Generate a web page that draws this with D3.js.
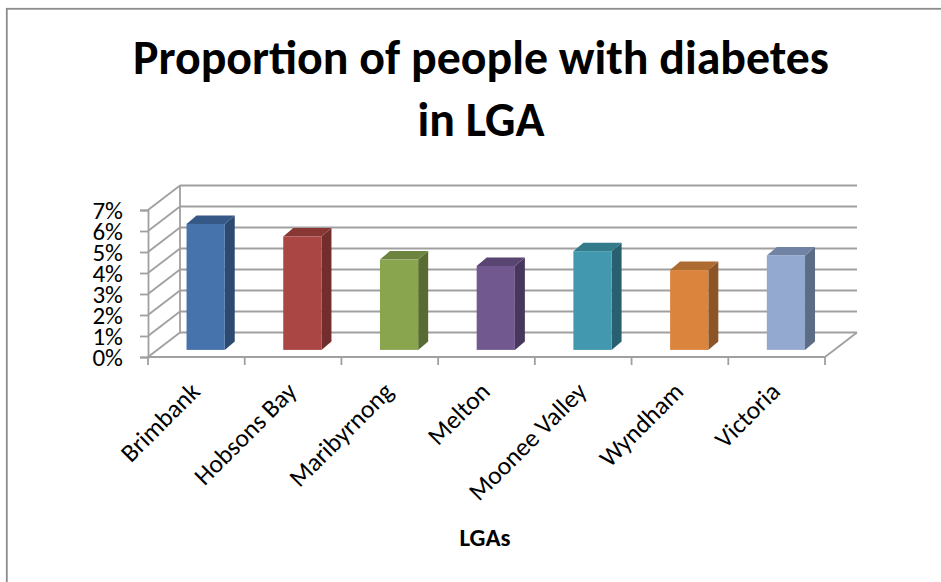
<!DOCTYPE html>
<html>
<head>
<meta charset="utf-8">
<script src="https://cdn.jsdelivr.net/npm/d3@7"></script>
<style>
  html, body { margin: 0; padding: 0; background: #fff; }
  svg { display: block; font-family: Carlito, Calibri, Lato, "Open Sans", sans-serif; }
</style>
</head>
<body>
<svg id="chart" width="941" height="582"></svg>
<script>
// Proportion of people with diabetes, by Local Government Area
const categories = ["Brimbank", "Hobsons Bay", "Maribyrnong", "Melton", "Moonee Valley", "Wyndham", "Victoria"];
const diabetesShare = [0.060, 0.054, 0.043, 0.040, 0.047, 0.038, 0.045];
const yTicks = [0, 0.01, 0.02, 0.03, 0.04, 0.05, 0.06, 0.07];
const titleLines = ["Proportion of people with diabetes", "in LGA"];
const xAxisTitle = "LGAs";

// face colours per column: front, side, top
const palette = [
  { front: "#4673ab", side: "#2c4a70", top: "#365886" },
  { front: "#aa4643", side: "#722e2c", top: "#893734" },
  { front: "#89a54e", side: "#586b32", top: "#6c843d" },
  { front: "#71588f", side: "#47375c", top: "#594571" },
  { front: "#4198af", side: "#29606f", top: "#337a8b" },
  { front: "#db843d", side: "#8c5427", top: "#ad6a31" },
  { front: "#93a9cf", side: "#5d6c85", top: "#7183a4" }
];

const svg = d3.select("#chart");

// 3D box geometry: front plane, plus an oblique offset to the back wall
const plot = { left: 148, right: 825, bottom: 357, top: 210 };
const depth = { dx: 32, dy: -24.5 };
const barDepthStart = 0.29;   // fraction of floor depth where column fronts sit
const barDepth = { dx: 10, dy: -8.5 };

const x = d3.scaleBand().domain(categories).range([plot.left, plot.right]).paddingInner(0).paddingOuter(0);
const y = d3.scaleLinear().domain([0, 0.07]).range([plot.bottom, plot.top]);

const gridColor = "#a0a0a0";

// chart area border (only left and top edges fall inside the frame)
svg.append("rect")
  .attr("x", 6.8).attr("y", 8.8).attr("width", 960).attr("height", 600)
  .attr("fill", "none").attr("stroke", "#8c8c8c").attr("stroke-width", 1.8);

const walls = svg.append("g").attr("fill", "none").attr("stroke", gridColor).attr("stroke-width", 1.8);

// back-wall gridlines
walls.selectAll("line.back").data(yTicks).join("line")
  .attr("class", "back")
  .attr("x1", plot.left + depth.dx).attr("x2", plot.right + depth.dx)
  .attr("y1", d => y(d) + depth.dy).attr("y2", d => y(d) + depth.dy);

// side-wall gridlines
walls.selectAll("line.side").data(yTicks).join("line")
  .attr("class", "side")
  .attr("x1", plot.left).attr("x2", plot.left + depth.dx)
  .attr("y1", d => y(d)).attr("y2", d => y(d) + depth.dy);

// back vertical edge of side wall
walls.append("line")
  .attr("x1", plot.left + depth.dx).attr("x2", plot.left + depth.dx)
  .attr("y1", y(0) + depth.dy).attr("y2", y(0.07) + depth.dy);

// floor edges
walls.append("line")
  .attr("x1", plot.left).attr("x2", plot.right)
  .attr("y1", y(0)).attr("y2", y(0));
walls.append("line")
  .attr("x1", plot.right).attr("x2", plot.right + depth.dx)
  .attr("y1", y(0)).attr("y2", y(0) + depth.dy);

// value axis (front edge of side wall) with ticks
const yAxis = d3.axisLeft(y).tickValues(yTicks).tickFormat(d3.format(".0%")).tickSize(8).tickPadding(17);
const gy = svg.append("g").attr("transform", `translate(${plot.left},0)`).call(yAxis);
gy.select(".domain").attr("stroke", gridColor).attr("stroke-width", 1.8);
gy.selectAll(".tick line").attr("stroke", gridColor).attr("stroke-width", 1.8);
gy.selectAll(".tick text")
  .attr("fill", "#000").attr("font-size", 25)
  .attr("font-family", "Carlito, Calibri, Lato, sans-serif");

// category axis ticks at band boundaries
const boundaries = categories.map(c => x(c)).concat([plot.right]);
svg.append("g").selectAll("line").data(boundaries).join("line")
  .attr("x1", d => d).attr("x2", d => d)
  .attr("y1", y(0)).attr("y2", y(0) + 8)
  .attr("stroke", gridColor).attr("stroke-width", 1.8);

// columns
const barW = x.bandwidth() * 0.395;
const ox = depth.dx * barDepthStart, oy = depth.dy * barDepthStart;
const bars = svg.append("g").selectAll("g").data(categories.map((c, i) => ({ c, v: diabetesShare[i], col: palette[i] }))).join("g");

bars.each(function (d) {
  const g = d3.select(this);
  const x0 = x(d.c) + x.bandwidth() / 2 - barW / 2 + ox;
  const x1 = x0 + barW;
  const yb = y(0) + oy;
  const yt = y(d.v) + oy;
  const bx = barDepth.dx, by = barDepth.dy;
  // side face
  g.append("path")
    .attr("d", `M${x1},${yt}L${x1 + bx},${yt + by}L${x1 + bx},${yb + by}L${x1},${yb}Z`)
    .attr("fill", d.col.side);
  // top face
  g.append("path")
    .attr("d", `M${x0},${yt}L${x0 + bx},${yt + by}L${x1 + bx},${yt + by}L${x1},${yt}Z`)
    .attr("fill", d.col.top);
  // front face
  g.append("rect")
    .attr("x", x0).attr("y", yt).attr("width", barW).attr("height", yb - yt)
    .attr("fill", d.col.front);
});

// category labels, rotated
svg.append("g").selectAll("text").data(categories).join("text")
  .attr("transform", d => `translate(${x(d) + x.bandwidth() / 2 + 5},${393}) rotate(-45)`)
  .attr("text-anchor", "end")
  .attr("font-size", 25.5)
  .attr("fill", "#000")
  .text(d => d);

// axis title
svg.append("text")
  .attr("x", 485).attr("y", 546)
  .attr("text-anchor", "middle")
  .attr("font-size", 25).attr("font-weight", "bold")
  .attr("fill", "#000")
  .text(xAxisTitle);

// chart title, sized so its first line spans the header width
const title = svg.append("g").attr("font-weight", "bold").attr("fill", "#000").attr("text-anchor", "middle");
const t1 = title.append("text").attr("x", 481).attr("y", 74).attr("font-size", 42).text(titleLines[0]);
const w = t1.node().getComputedTextLength();
const fs = 42 * 696 / w;
t1.attr("font-size", fs);
title.append("text").attr("x", 481).attr("y", 136).attr("font-size", fs).text(titleLines[1]);
</script>
</body>
</html>
